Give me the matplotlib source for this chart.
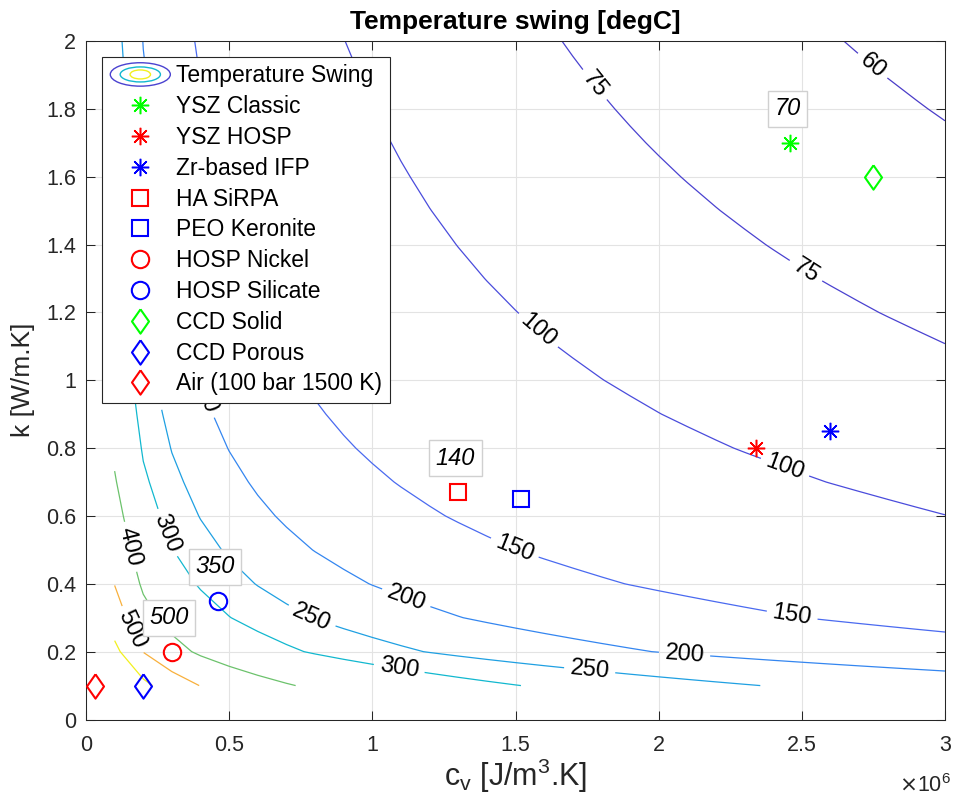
import numpy as np
import matplotlib
matplotlib.use('Agg')
import matplotlib.pyplot as plt
from matplotlib.legend_handler import HandlerBase
from matplotlib.patches import Ellipse
from matplotlib.ticker import FuncFormatter, MultipleLocator

plt.rcParams['font.family'] = ['Liberation Sans', 'DejaVu Sans']

# grid of the temperature swing map
cv_grid = np.linspace(0.1e6, 3.0e6, 30)   # J/m3.K
k_grid = np.linspace(0.1, 2.0, 20)        # W/m.K
# swing ~ coef / (effusivity + offset), constants read off the contour positions
swing_coef = 143300.0
eff_offset = 88.0

levels = [60, 75, 100, 150, 200, 250, 300, 400, 500, 600]
level_colors = ['#4a3cc8', '#4a42d0', '#4a4cdc', '#4a6af0', '#3486f0',
                '#1fa0e2', '#12b8cf', '#6cc26c', '#f8b03c', '#f2f01e']

# where the inline contour labels sit
label_cv = [2.74e6, 1.76e6, 2.51e6, 1.566e6, 2.44e6, 1.497e6, 2.465e6, 0.40e6,
            0.235e6, 1.119e6, 2.09e6, 0.787e6, 1.759e6, 0.28e6, 1.094e6, 0.15e6, 0.157e6]
label_k = [1.92, 1.86, 1.317, 1.134, 0.741, 0.505, 0.301, 0.955,
           0.985, 0.36, 0.189, 0.301, 0.145, 0.549, 0.151, 0.508, 0.263]

# materials
names = ['YSZ Classic', 'YSZ HOSP', 'Zr-based IFP', 'HA SiRPA', 'PEO Keronite',
         'HOSP Nickel', 'HOSP Silicate', 'CCD Solid', 'CCD Porous', 'Air (100 bar 1500 K)']
mat_cv = [2.46e6, 2.34e6, 2.60e6, 1.30e6, 1.52e6, 0.30e6, 0.46e6, 2.75e6, 0.20e6, 0.03e6]
mat_k = [1.70, 0.80, 0.85, 0.67, 0.65, 0.20, 0.35, 1.60, 0.10, 0.10]

# boxed swing values next to some materials
callout_names = ['YSZ Classic', 'HA SiRPA', 'HOSP Silicate', 'HOSP Nickel']
callout_text = ['70', '140', '350', '500']

green, red, blue = (0, 1, 0), (1, 0, 0), (0, 0, 1)
diamond = [(0, 1), (0.7, 0), (0, -1), (-0.7, 0), (0, 1)]
star = (8, 2, 0)
# colour, marker, size, edge width
mat_style = [(green, star, 12.5, 1.1), (red, star, 12.5, 1.1), (blue, star, 12.5, 1.1),
             (red, 's', 11.5, 1.5), (blue, 's', 11.5, 1.5), (red, 'o', 12.5, 1.5),
             (blue, 'o', 12.5, 1.5), (green, diamond, 17.5, 1.5), (blue, diamond, 17.5, 1.5),
             (red, diamond, 17.5, 1.5)]

FS = 16.5
AX_COL = (0.15, 0.15, 0.15)

CV, K = np.meshgrid(cv_grid, k_grid)
Z = swing_coef / (np.sqrt(CV * K) + eff_offset)

fig = plt.figure(figsize=(9.54, 8.09), dpi=100)
ax = fig.add_axes([86 / 954, 1 - 719.5 / 809, 859 / 954, 678.5 / 809])

cs = ax.contour(CV, K, Z, levels=levels, colors=level_colors, linewidths=0.9)
ax.set_xlim(0, 3e6)
ax.set_ylim(0, 2)
ax.clabel(cs, manual=list(zip(label_cv, label_k)), inline=True, fmt='%d',
          fontsize=17, colors='k', inline_spacing=6)

handles = []
for i in range(len(names)):
    col, mk, ms, mew = mat_style[i]
    h, = ax.plot(mat_cv[i], mat_k[i], linestyle='none', marker=mk, ms=ms,
                 mec=col, mfc='none', mew=mew, zorder=5, label=names[i])
    handles.append(h)

for nm, txt in zip(callout_names, callout_text):
    i = names.index(nm)
    ax.annotate(txt, xy=(mat_cv[i], mat_k[i]), xytext=(-2, 24.5), textcoords='offset points',
                ha='center', va='center', fontsize=17, fontstyle='italic', zorder=6,
                bbox=dict(boxstyle='square,pad=0.28', fc='white', ec='#d0d0d0', lw=1))


class ContourIcon:
    pass


class ContourIconHandler(HandlerBase):
    def create_artists(self, legend, orig_handle, xdescent, ydescent, width, height, fontsize, trans):
        cx = width / 2 - xdescent
        cy = height / 2 - ydescent
        arts = []
        for w, h, c in [(1.0, 0.39, level_colors[1]), (0.67, 0.25, level_colors[6]),
                        (0.34, 0.15, level_colors[9])]:
            e = Ellipse((cx, cy), width * w, width * h, fill=False, ec=c, lw=1, transform=trans)
            arts.append(e)
        return arts


leg = ax.legend([ContourIcon()] + handles, ['Temperature Swing'] + names,
                handler_map={ContourIcon: ContourIconHandler()},
                loc='upper left', bbox_to_anchor=(0.0192, 0.9769), borderaxespad=0,
                fontsize=FS, handlelength=2.62, handletextpad=0.26, borderpad=0.34,
                labelspacing=0.34, fancybox=False, framealpha=1, edgecolor=AX_COL)
leg.get_frame().set_linewidth(0.8)

ax.xaxis.set_major_locator(MultipleLocator(0.5e6))
ax.yaxis.set_major_locator(MultipleLocator(0.2))
ax.xaxis.set_major_formatter(FuncFormatter(lambda v, p: '%g' % round(v / 1e6, 2)))
ax.yaxis.set_major_formatter(FuncFormatter(lambda v, p: '%g' % round(v, 2)))
ax.tick_params(direction='in', top=True, right=True, length=6.2, width=0.75,
               colors=AX_COL, labelsize=15.5, labelcolor=AX_COL)
ax.tick_params(axis='x', pad=11)
ax.tick_params(axis='y', pad=7)
for s in ax.spines.values():
    s.set_color(AX_COL)
    s.set_linewidth(0.75)
ax.grid(True, color='#e3e3e3', linewidth=0.8)
ax.set_axisbelow(True)

ax.set_xlabel(r'c$_\mathregular{v}$ [J/m$^\mathregular{3}$.K]', fontsize=22, color=AX_COL, labelpad=1)
ax.set_ylabel('k [W/m.K]', fontsize=19, color=AX_COL, labelpad=8)
ax.set_title('Temperature swing [degC]', fontsize=19, fontweight='bold', pad=9)
fig.text(0.997, 0.021, r'$\times$10$^\mathregular{6}$', fontsize=15.5, color=AX_COL,
         ha='right', va='baseline')

fig.savefig('out.png', dpi=100)
